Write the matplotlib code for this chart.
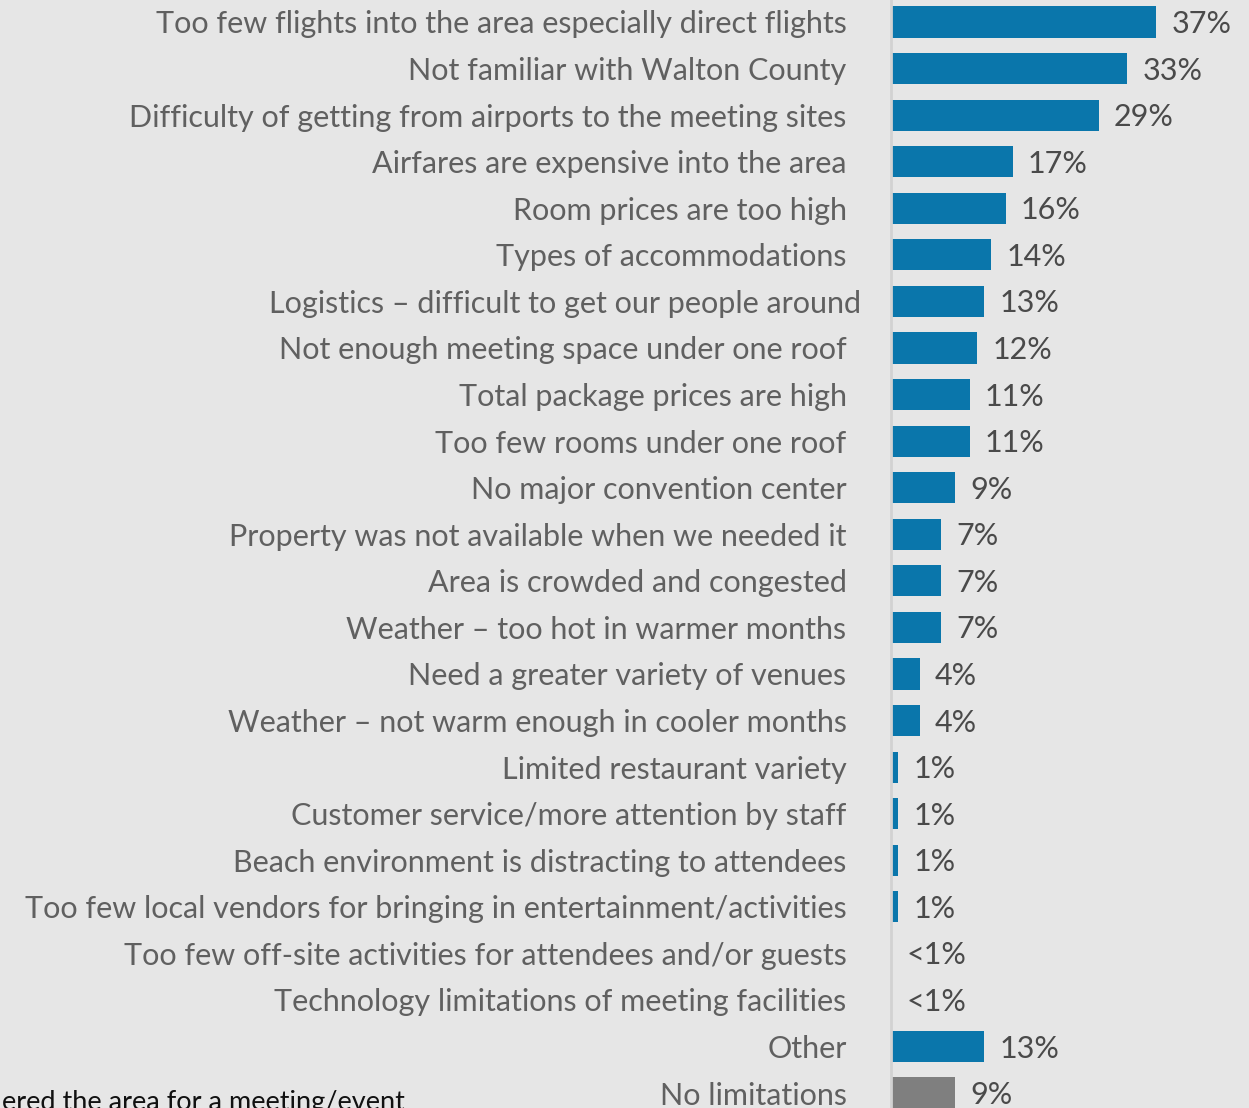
import matplotlib
matplotlib.use("Agg")
from matplotlib import pyplot as plt
from matplotlib.transforms import ScaledTranslation


# reasons, top to bottom
categories = [
    "Too few flights into the area especially direct flights",
    "Not familiar with Walton County",
    "Difficulty of getting from airports to the meeting sites",
    "Airfares are expensive into the area",
    "Room prices are too high",
    "Types of accommodations",
    "Logistics \u2013 difficult to get our people around",
    "Not enough meeting space under one roof",
    "Total package prices are high",
    "Too few rooms under one roof",
    "No major convention center",
    "Property was not available when we needed it",
    "Area is crowded and congested",
    "Weather \u2013 too hot in warmer months",
    "Need a greater variety of venues",
    "Weather \u2013 not warm enough in cooler months",
    "Limited restaurant variety",
    "Customer service/more attention by staff",
    "Beach environment is distracting to attendees",
    "Too few local vendors for bringing in entertainment/activities",
    "Too few off-site activities for attendees and/or guests",
    "Technology limitations of meeting facilities",
    "Other",
    "No limitations",
]
values = [37, 33, 29, 17, 16, 14, 13, 12, 11, 11, 9, 7, 7, 7, 4, 4, 1, 1, 1, 1, 0, 0, 13, 9]
value_labels = ["37%", "33%", "29%", "17%", "16%", "14%", "13%", "12%", "11%", "11%",
                "9%", "7%", "7%", "7%", "4%", "4%", "1%", "1%", "1%", "1%",
                "<1%", "<1%", "13%", "9%"]
footnote = "ered the area for a meeting/event"

BG = "#e6e6e6"
BLUE = "#0a76ab"
GREY = "#7f7f7f"

plt.rcParams["font.family"] = ["Lato", "DejaVu Sans"]

fig = plt.figure(figsize=(12.49, 11.08), dpi=100, facecolor=BG)
ax = fig.add_axes([891 / 1249, 0, 358 / 1249, 1])
ax.set_facecolor(BG)

colors = [BLUE] * (len(values) - 1) + [GREY]
pos = list(range(len(values)))
ax.barh(pos, values, height=0.67, color=colors, zorder=2)

ax.set_xlim(0, 50)
ax.set_ylim(23.32, -0.472)

for i, (v, lab) in enumerate(zip(values, value_labels)):
    ax.annotate(lab, (v, i), xytext=(11, -1.5), textcoords="offset points",
                va="center", ha="left", fontsize=22, color="#4a4a4a")

ax.set_yticks(pos)
ax.set_yticklabels(categories, fontsize=22, color="#606060")
ax.tick_params(axis="y", length=0, pad=32)
ax.set_xticks([])

# this label sits a bit further right in the original
for t in ax.get_yticklabels():
    if t.get_text().startswith("Logistics"):
        t.set_transform(t.get_transform() + ScaledTranslation(15 / 100, 0, fig.dpi_scale_trans))

for s in ["top", "right", "bottom"]:
    ax.spines[s].set_visible(False)
ax.spines["left"].set_color("#d2d2d2")
ax.spines["left"].set_linewidth(2)

fig.text(0.002, 1 - 1090 / 1108, footnote, ha="left", va="top",
         fontsize=19.5, color="#111111")

fig.savefig("out.png", dpi=100, facecolor=BG)
